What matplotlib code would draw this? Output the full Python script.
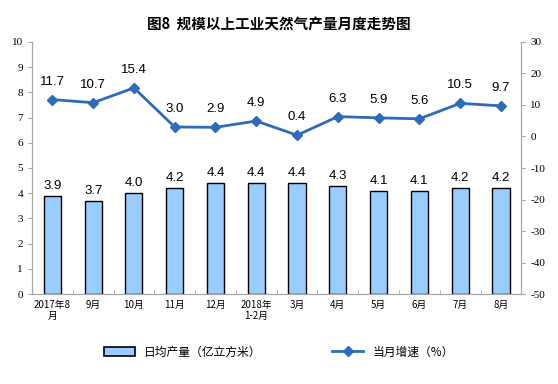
import matplotlib.pyplot as plt
import numpy as np
from matplotlib.lines import Line2D
from matplotlib.patches import Patch

plt.rcParams['font.family'] = ['Noto Sans CJK SC', 'DejaVu Sans']
plt.rcParams['axes.unicode_minus'] = False

# data
months = ["2017年8\n月", "9月", "10月", "11月", "12月", "2018年\n1-2月",
          "3月", "4月", "5月", "6月", "7月", "8月"]
daily_output = [3.9, 3.7, 4.0, 4.2, 4.4, 4.4, 4.4, 4.3, 4.1, 4.1, 4.2, 4.2]
growth = [11.7, 10.7, 15.4, 3.0, 2.9, 4.9, 0.4, 6.3, 5.9, 5.6, 10.5, 9.7]

bar_color = "#99CCFF"
line_color = "#2E6BB8"
grey = "#A6A6A6"

fig = plt.figure(figsize=(5.58, 3.84), dpi=100)
ax = fig.add_axes([0.0573, 0.234, 0.877, 0.657])
ax2 = ax.twinx()

x = np.arange(len(months))
ax.bar(x, daily_output, width=0.42, color=bar_color, edgecolor="black", linewidth=1.0, zorder=2)
for xi, v in zip(x, daily_output):
    ax.text(xi, v + 0.15, f"{v:.1f}", ha="center", va="bottom", fontsize=9.5, family="Liberation Sans")

ax2.plot(x, growth, color=line_color, linewidth=2, marker="D", markersize=5, zorder=3)
for xi, v in zip(x, growth):
    ax2.text(xi, v + 3.8, f"{v:.1f}", ha="center", va="bottom", fontsize=9.5, family="Liberation Sans")

ax.set_xlim(-0.5, len(months) - 0.5)
ax.set_ylim(0, 10)
ax.set_yticks(range(0, 11))
ax2.set_ylim(-50, 30)
ax2.set_yticks(range(-50, 31, 10))

ax.set_xticks(x)
ax.set_xticklabels(months, fontsize=7)
ax.set_xticks(np.arange(-0.5, len(months), 1), minor=True)
ax.tick_params(axis="x", which="major", length=0, pad=4)
ax.tick_params(axis="x", which="minor", length=3, color=grey, direction="in")

for a in (ax, ax2):
    for s in a.spines.values():
        s.set_color(grey)
    a.spines["top"].set_visible(False)
ax.tick_params(axis="y", length=3, color=grey, labelsize=8)
ax2.tick_params(axis="y", length=3, color=grey, labelsize=8)
for lab in ax.get_yticklabels() + ax2.get_yticklabels():
    lab.set_family("Liberation Serif")

fig.text(0.5, 0.935, "图8  规模以上工业天然气产量月度走势图", ha="center", va="center",
         fontsize=10.5, fontweight="bold")

handles = [Patch(facecolor=bar_color, edgecolor="black", linewidth=1.2),
           Line2D([0], [0], color=line_color, linewidth=2, marker="D", markersize=5)]
fig.legend(handles, ["日均产量（亿立方米）", "当月增速（%）"], loc="center",
           bbox_to_anchor=(0.5, 0.083), ncol=2, frameon=False, fontsize=8.5,
           handlelength=2.6, columnspacing=6)

fig.savefig("out.png", dpi=100)
